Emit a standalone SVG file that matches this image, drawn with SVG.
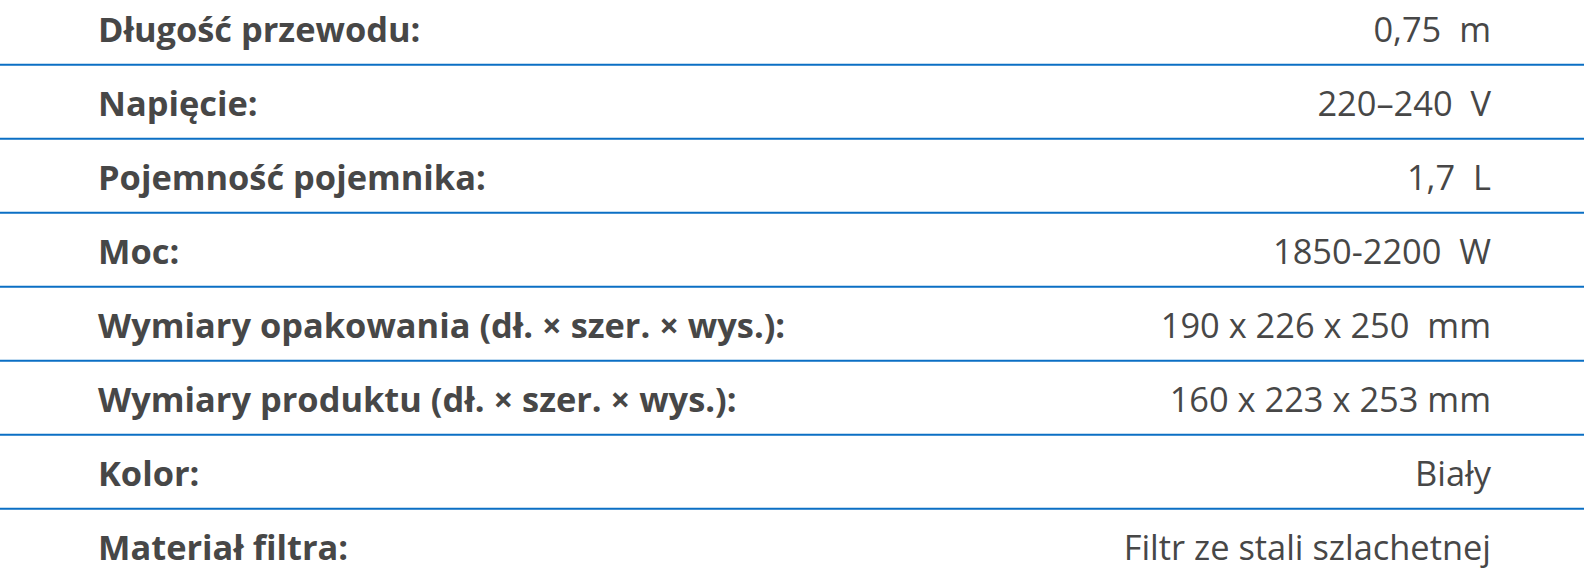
<svg xmlns="http://www.w3.org/2000/svg" width="1584" height="574" viewBox="0 0 1584 574">
<style>
.k{font-family:"Open Sans","Noto Sans",sans-serif;font-weight:700;font-size:34.4px;fill:#474747}
.v{font-family:"Open Sans","Noto Sans",sans-serif;font-weight:400;font-size:34.4px;fill:#474747;text-anchor:end}
.ln{stroke:#0b6fc4;stroke-width:2}
</style>
<rect width="1584" height="574" fill="#ffffff"/>
<g id="row1"><text class="k" x="98" y="42">Długość przewodu:</text><text class="v" x="1491" y="42">0,75&#160; m</text></g>
<g id="row2"><text class="k" x="98" y="116">Napięcie:</text><text class="v" x="1491" y="116">220–240&#160; V</text></g>
<g id="row3"><text class="k" x="98" y="190">Pojemność pojemnika:</text><text class="v" x="1491" y="190">1,7&#160; L</text></g>
<g id="row4"><text class="k" x="98" y="264">Moc:</text><text class="v" x="1491" y="264">1850-2200&#160; W</text></g>
<g id="row5"><text class="k" x="98" y="338">Wymiary opakowania (dł. × szer. × wys.):</text><text class="v" x="1491" y="338">190 x 226 x 250&#160; mm</text></g>
<g id="row6"><text class="k" x="98" y="412">Wymiary produktu (dł. × szer. × wys.):</text><text class="v" x="1491" y="412">160 x 223 x 253 mm</text></g>
<g id="row7"><text class="k" x="98" y="486">Kolor:</text><text class="v" x="1491" y="486">Biały</text></g>
<g id="row8"><text class="k" x="98" y="560">Materiał filtra:</text><text class="v" x="1491" y="560">Filtr ze stali szlachetnej</text></g>
<g id="connectors">
<line class="ln" x1="0" y1="64.7" x2="1584" y2="64.7"/>
<line class="ln" x1="0" y1="138.7" x2="1584" y2="138.7"/>
<line class="ln" x1="0" y1="212.7" x2="1584" y2="212.7"/>
<line class="ln" x1="0" y1="286.7" x2="1584" y2="286.7"/>
<line class="ln" x1="0" y1="360.7" x2="1584" y2="360.7"/>
<line class="ln" x1="0" y1="434.7" x2="1584" y2="434.7"/>
<line class="ln" x1="0" y1="508.7" x2="1584" y2="508.7"/>
</g>
</svg>
